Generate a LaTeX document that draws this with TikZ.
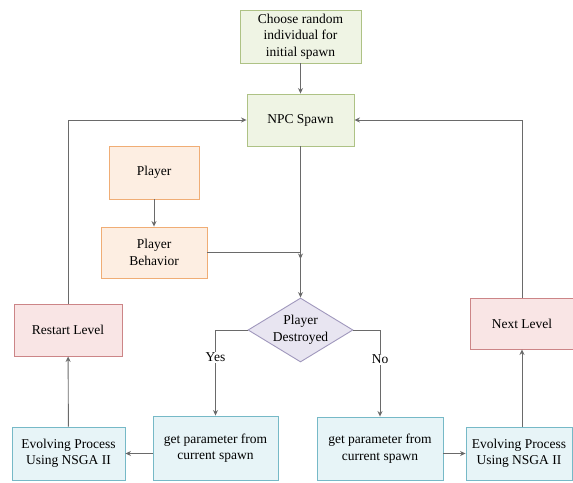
\documentclass[tikz,border=0pt]{standalone}
\usepackage{fontspec}
\setmainfont{Liberation Serif}
\newfontfamily\tms{Liberation Serif}
\usetikzlibrary{shapes.geometric,arrows.meta}
\definecolor{gfill}{HTML}{EFF4E4}\definecolor{gdraw}{HTML}{AEC285}
\definecolor{ofill}{HTML}{FDEEE2}\definecolor{odraw}{HTML}{F0AD75}
\definecolor{rfill}{HTML}{F9E5E5}\definecolor{rdraw}{HTML}{CC8587}
\definecolor{pfill}{HTML}{E8E5F1}\definecolor{pdraw}{HTML}{A098BD}
\definecolor{cfill}{HTML}{E7F4F7}\definecolor{cdraw}{HTML}{76B9C7}
\definecolor{ln}{HTML}{6A6A6A}
\tikzset{
 txt/.style={font=\tms\fontsize{13.5}{16.5}\selectfont},
 box/.style={rectangle,line width=0.9pt,inner sep=1pt,align=center,txt},
 gbox/.style={box,fill=gfill,draw=gdraw},
 obox/.style={box,fill=ofill,draw=odraw},
 rbox/.style={box,fill=rfill,draw=rdraw},
 cbox/.style={box,fill=cfill,draw=cdraw},
 dia/.style={diamond,aspect=1.64,line width=0.9pt,fill=pfill,draw=pdraw,inner sep=0pt,align=center,txt},
 conn/.style={draw=ln,line width=0.9pt,-{Stealth[length=5.5pt,width=5pt]}},
 lab/.style={fill=white,inner sep=1pt,txt}
}
\begin{document}
\begin{tikzpicture}[x=1pt,y=-1pt]
\useasboundingbox[fill=white] (0,0) rectangle (573,482);
\node[gbox,minimum width=121pt,minimum height=53pt] (choose) at (300.5,36.5) {Choose random\\individual for\\initial spawn};
\node[gbox,minimum width=107pt,minimum height=52pt] (npc) at (300.5,120) {NPC Spawn};
\node[obox,minimum width=90pt,minimum height=53pt] (player) at (154,172.5) {Player};
\node[obox,minimum width=106pt,minimum height=51pt] (behav) at (154,252.5) {Player\\Behavior};
\node[dia,minimum width=105pt,minimum height=64pt] (dest) at (300.5,330) {Player\\Destroyed};
\node[rbox,minimum width=108pt,minimum height=52pt] (restart) at (68,330) {Restart Level};
\node[rbox,minimum width=104pt,minimum height=51pt] (next) at (522,323.5) {Next Level};
\node[cbox,minimum width=113pt,minimum height=53pt] (evoL) at (68.5,453.5) {Evolving Process\\Using NSGA II};
\node[cbox,minimum width=125pt,minimum height=64pt] (getL) at (215.5,448) {get parameter from\\current spawn};
\node[cbox,minimum width=126pt,minimum height=63pt] (getR) at (380,448.5) {get parameter from\\current spawn};
\node[cbox,minimum width=106pt,minimum height=53pt] (evoR) at (519,453.5) {Evolving Process\\Using NSGA II};
\coordinate (join) at (300.5,259);
\draw[conn] (choose) -- (npc);
\draw[conn] (npc) -- (dest);
\draw[conn] (behav.east) -- (behav.east -| join) -- (join);
\draw[conn] (player) -- (behav);
\draw[conn] (dest.west) -| node[lab,pos=0.66]{Yes} (getL.north);
\draw[conn] (dest.east) -| node[lab,pos=0.67]{No} (getR.north);
\draw[conn] (getL.west |- evoL.east) -- (evoL.east);
\draw[conn] (getR.east |- evoR.west) -- (evoR.west);
\draw[conn] (evoL) -- (restart);
\draw[conn] (next.south |- evoR.north) -- (next.south);
\draw[conn] (restart.north) |- (npc.west);
\draw[conn] (next.north) |- (npc.east);
\end{tikzpicture}
\end{document}
